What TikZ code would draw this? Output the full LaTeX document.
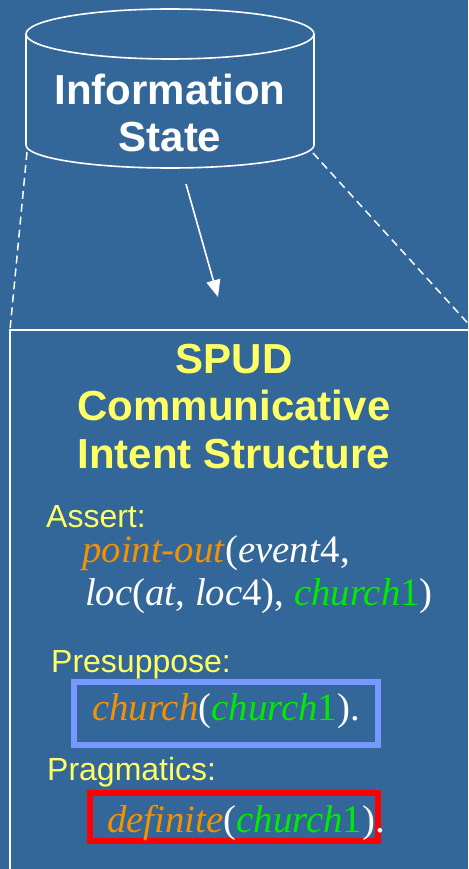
\documentclass[tikz,border=0pt]{standalone}
\usepackage{fontspec}
\setmainfont{Liberation Serif}
\newfontfamily\sansf{Liberation Sans}
\usetikzlibrary{arrows.meta}
\definecolor{bg}{RGB}{51,102,153}
\definecolor{ylw}{RGB}{255,255,102}
\definecolor{orng}{RGB}{245,145,0}
\definecolor{grn}{RGB}{0,235,0}
\definecolor{bluebox}{RGB}{119,153,255}
\definecolor{redbox}{RGB}{255,0,0}
\tikzset{
  wline/.style={draw=white, line width=1.6pt},
  dline/.style={draw=white, line width=1.5pt, dash pattern=on 8pt off 5pt},
  bigtitle/.style={font=\sansf\bfseries\fontsize{42}{47.5}\selectfont, align=center, inner sep=0pt},
  lbl/.style={font=\sansf\fontsize{32}{38}\selectfont, text=ylw, inner sep=0pt, anchor=base west},
  logic/.style={font=\fontsize{38.8}{44}\selectfont, text=white, inner sep=0pt, anchor=base west},
}
\newcommand{\orn}[1]{{\color{orng}\textit{#1}}}
\newcommand{\grc}[1]{{\color{grn}\textit{#1}1}}
\begin{document}
\begin{tikzpicture}[x=1pt,y=-1pt]
\useasboundingbox (0,0) rectangle (468,869);
\fill[bg] (0,0) rectangle (468,869);
\begin{scope}
\clip (0,0) rectangle (468,869);
% cylinder
\draw[wline] (170,34) ellipse [x radius=144pt, y radius=25pt];
\draw[wline] (26,34) -- (26,145) arc[start angle=180, end angle=360, x radius=144pt, y radius=23pt] -- (314,34);
\node[bigtitle, text=white, anchor=base] (info) at (170,152) {Information\\State};
\coordinate (cylL) at (27,152);
\coordinate (cylR) at (313,153);
% zoom box
\coordinate (boxTL) at (10,330);
\coordinate (boxTR) at (474,330);
\draw[wline] (boxTL) rectangle (474,900);
\draw[dline] (cylL) -- (boxTL);
\draw[dline] (cylR) -- (boxTR);
% arrow
\coordinate (arS) at (186,184);
\coordinate (arE) at (218,297);
\draw[wline, -{Triangle[length=17pt,width=14pt]}] (arS) -- (arE);
\end{scope}
% title
\node[bigtitle, text=ylw, anchor=base] (spud) at (234,468) {SPUD\\Communicative\\Intent Structure};
% contents
\node[lbl] (assert) at (46,527) {Assert:};
\node[logic] (l1) at (82,562) {\orn{point-out}(\textit{event}4,};
\node[logic] (l2) at (85,605) {\textit{loc}(\textit{at}, \textit{loc}4), \grc{church})};
\node[lbl] (presup) at (51,672) {Presuppose:};
\draw[draw=bluebox, line width=6pt] (74,682) rectangle (378,745);
\node[logic] (l3) at (92,720) {\orn{church}(\grc{church}).};
\node[lbl] (prag) at (47,780) {Pragmatics:};
\draw[draw=redbox, line width=6pt] (90,793) rectangle (378,841);
\node[logic] (l4) at (107,832) {\orn{definite}(\grc{church}).};
\end{tikzpicture}
\end{document}
